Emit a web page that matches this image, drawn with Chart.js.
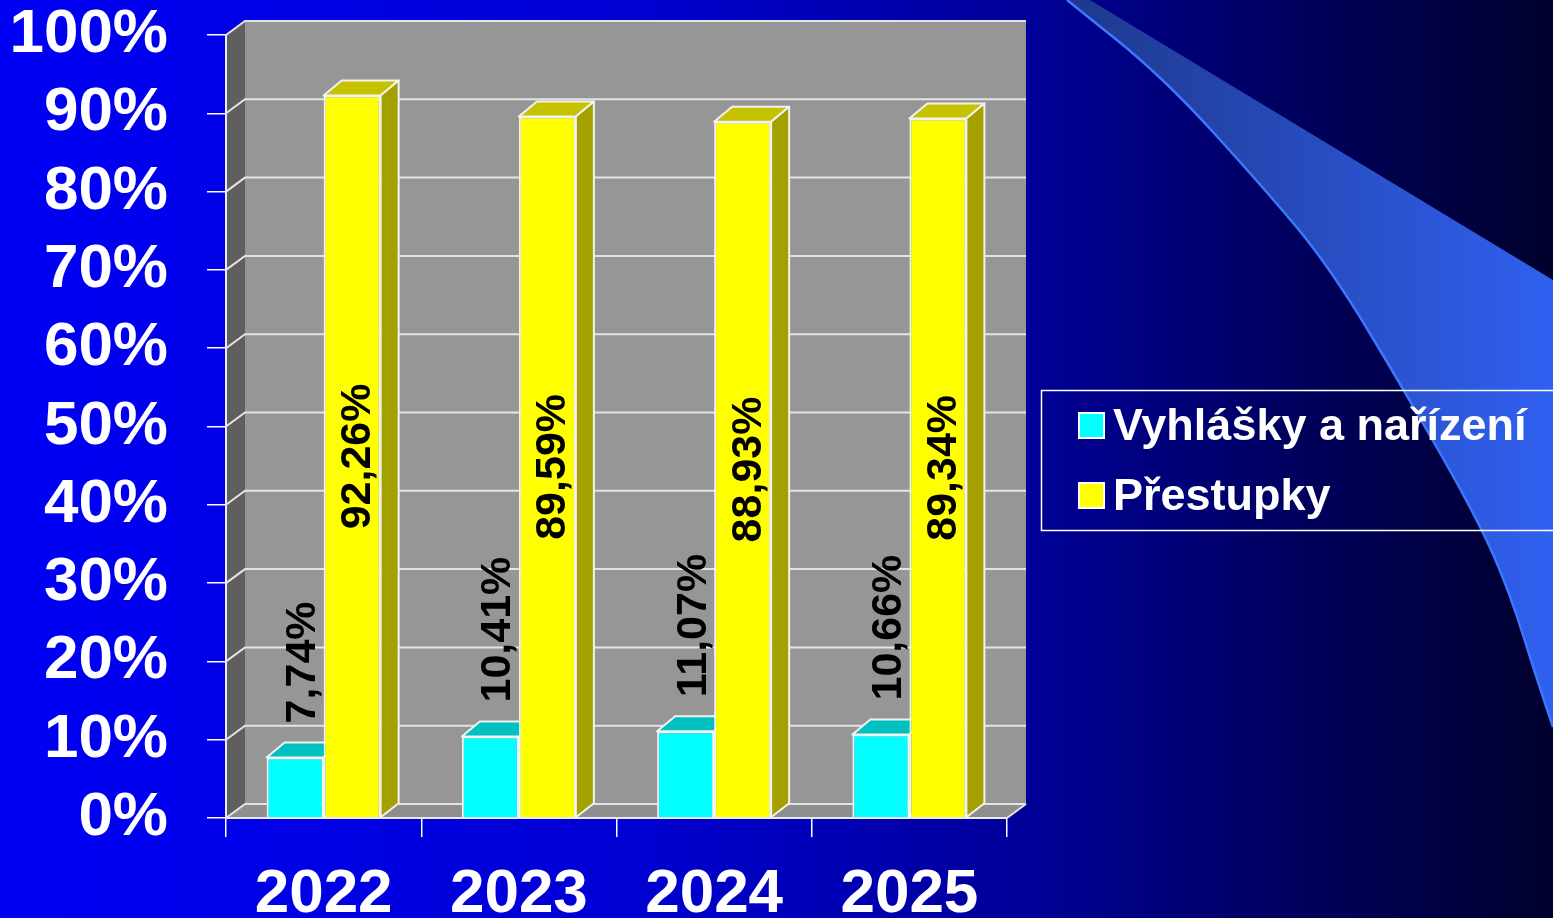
<!DOCTYPE html>
<html><head><meta charset="utf-8">
<script src="https://cdn.jsdelivr.net/npm/chart.js@4.4.0/dist/chart.umd.min.js"></script>
<style>html,body{margin:0;padding:0;background:#0000a0;overflow:hidden}canvas{display:block}</style>
</head><body>
<canvas id="c" width="1553" height="918"></canvas>
<script>
// ---- data ----
const categories = ['2022', '2023', '2024', '2025'];
const vyhlasky = [7.74, 10.41, 11.07, 10.66];
const prestupky = [92.26, 89.59, 88.93, 89.34];
const seriesNames = ['Vyhlášky a nařízení', 'Přestupky'];
const yTickStep = 10;

// ---- styling ----
const FONT = '"Liberation Sans", Arial, sans-serif';
const WDX = 19, WDY = -14;   // wall depth
const BDX = 18, BDY = -15;   // bar depth
const faceColors = [
  { front: '#00FFFF', top: '#00C0C0', side: '#009C9C' },
  { front: '#FFFF00', top: '#C6C200', side: '#A4A000' }
];

function poly(ctx, pts, fill, stroke, lw) {
  ctx.beginPath();
  ctx.moveTo(pts[0][0], pts[0][1]);
  for (let i = 1; i < pts.length; i++) ctx.lineTo(pts[i][0], pts[i][1]);
  ctx.closePath();
  if (fill) { ctx.fillStyle = fill; ctx.fill(); }
  if (stroke) { ctx.strokeStyle = stroke; ctx.lineWidth = lw || 1; ctx.stroke(); }
}

const scenePlugin = {
  id: 'scene',
  beforeDraw(chart) {
    const ctx = chart.ctx, W = chart.width, H = chart.height;
    ctx.save();
    const g = ctx.createLinearGradient(0, 0, W, 0);
    g.addColorStop(0, 'rgb(0,0,245)');
    g.addColorStop(0.41, 'rgb(0,0,210)');
    g.addColorStop(0.67, 'rgb(0,0,150)');
    g.addColorStop(0.83, 'rgb(0,0,95)');
    g.addColorStop(1, 'rgb(0,0,45)');
    ctx.fillStyle = g;
    ctx.fillRect(0, 0, W, H);

    // decorative swoosh
    const curve = [[1553,727],[1537,680],[1510,593],[1478,520],[1410,400],[1330,267],[1263,187],[1163,77],[1067,0]];
    const traceCurve = () => {
      ctx.moveTo(curve[0][0], curve[0][1]);
      for (let i = 1; i < curve.length - 1; i++) {
        const mx = (curve[i][0] + curve[i+1][0]) / 2, my = (curve[i][1] + curve[i+1][1]) / 2;
        ctx.quadraticCurveTo(curve[i][0], curve[i][1], mx, my);
      }
      ctx.lineTo(curve[curve.length-1][0], curve[curve.length-1][1]);
    };
    const sg = ctx.createLinearGradient(1067, 0, W, 0);
    sg.addColorStop(0, 'rgb(30,56,140)');
    sg.addColorStop(1, 'rgb(48,96,240)');
    ctx.beginPath();
    traceCurve();
    ctx.lineTo(1090, 0);
    ctx.lineTo(W, 280);
    ctx.closePath();
    ctx.fillStyle = sg;
    ctx.fill();
    ctx.beginPath();
    traceCurve();
    ctx.strokeStyle = 'rgb(60,120,255)';
    ctx.lineWidth = 2.5;
    ctx.stroke();

    // 3D walls
    const a = chart.chartArea, L = a.left, R = a.right, T = a.top, B = a.bottom;
    poly(ctx, [[L+WDX, T+WDY], [R+WDX, T+WDY], [R+WDX, B+WDY], [L+WDX, B+WDY]], '#969696');
    poly(ctx, [[L, T], [L+WDX, T+WDY], [L+WDX, B+WDY], [L, B]], '#5f5f5f');
    poly(ctx, [[L, B], [L+WDX, B+WDY], [R+WDX, B+WDY], [R, B]], '#8e8e8e');
    const y = chart.scales.y;
    ctx.strokeStyle = '#e4e4e4';
    ctx.lineWidth = 2;
    y.ticks.forEach(t => {
      const py = y.getPixelForValue(t.value);
      ctx.beginPath();
      ctx.moveTo(L, py);
      ctx.lineTo(L + WDX, py + WDY);
      ctx.lineTo(R + WDX, py + WDY);
      ctx.stroke();
    });
    ctx.beginPath();
    ctx.moveTo(R, B); ctx.lineTo(R + WDX, B + WDY);
    ctx.stroke();
    ctx.restore();
  },
  beforeDatasetsDraw(chart) {
    const ctx = chart.ctx;
    ctx.save();
    ctx.lineJoin = 'round';
    chart.data.datasets.forEach((ds, di) => {
      const meta = chart.getDatasetMeta(di);
      const c = faceColors[di];
      meta.data.forEach(bar => {
        const x0 = bar.x - bar.width / 2, x1 = bar.x + bar.width / 2, yt = bar.y, yb = bar.base;
        poly(ctx, [[x0, yt], [x1, yt], [x1+BDX, yt+BDY], [x0+BDX, yt+BDY]], c.top, '#f2f2f2', 2);
        poly(ctx, [[x1, yt], [x1+BDX, yt+BDY], [x1+BDX, yb+WDY], [x1, yb]], c.side, '#f2f2f2', 2);
      });
    });
    ctx.restore();
  },
  afterDatasetsDraw(chart) {
    const ctx = chart.ctx;
    ctx.save();
    ctx.font = 'bold 43px ' + FONT;
    ctx.fillStyle = '#000';
    chart.data.datasets.forEach((ds, di) => {
      const meta = chart.getDatasetMeta(di);
      meta.data.forEach((bar, i) => {
        const txt = ds.data[i].toFixed(2).replace('.', ',') + '%';
        ctx.save();
        if (di === 1) {
          ctx.translate(bar.x + 18, (bar.y + bar.base) / 2);
          ctx.rotate(-Math.PI / 2);
          ctx.textAlign = 'center';
        } else {
          ctx.translate(bar.x + 20, bar.y - 34);
          ctx.rotate(-Math.PI / 2);
          ctx.textAlign = 'left';
        }
        ctx.textBaseline = 'alphabetic';
        ctx.fillText(txt, 0, 0);
        ctx.restore();
      });
    });
    ctx.restore();
  },
  afterDraw(chart) {
    const ctx = chart.ctx;
    ctx.save();
    ctx.strokeStyle = '#ffffff';
    ctx.lineWidth = 1.5;
    ctx.strokeRect(1041.5, 390.5, 620, 140);
    ctx.font = 'bold 45px ' + FONT;
    ctx.textBaseline = 'alphabetic';
    ctx.textAlign = 'left';
    chart.data.datasets.forEach((ds, i) => {
      const yy = 413 + i * 70;
      ctx.fillStyle = ds.backgroundColor;
      ctx.fillRect(1079, yy, 25, 25);
      ctx.strokeStyle = '#ffffff';
      ctx.lineWidth = 2;
      ctx.strokeRect(1079, yy, 25, 25);
      ctx.fillStyle = '#ffffff';
      ctx.fillText(ds.label, 1113, yy + 27);
    });
    ctx.restore();
  }
};

new Chart(document.getElementById('c'), {
  type: 'bar',
  data: {
    labels: categories,
    datasets: [
      { label: seriesNames[0], data: vyhlasky, backgroundColor: faceColors[0].front, borderColor: '#f2f2f2', borderWidth: 2 },
      { label: seriesNames[1], data: prestupky, backgroundColor: faceColors[1].front, borderColor: '#f2f2f2', borderWidth: 2 }
    ]
  },
  options: {
    responsive: false,
    animation: false,
    events: [],
    layout: { autoPadding: false, padding: { left: 0, top: 35, right: 546, bottom: 0 } },
    datasets: { bar: { categoryPercentage: 0.584, barPercentage: 1 } },
    plugins: { legend: { display: false }, tooltip: { enabled: false }, title: { display: false } },
    scales: {
      x: {
        afterFit: s => { s.height = 100; s.paddingLeft = 0; s.paddingRight = 0; },
        grid: { offset: true, drawOnChartArea: false, drawTicks: true, tickLength: 19, color: '#ffffff', lineWidth: 1.5 },
        border: { display: true, color: '#ececec', width: 2 },
        ticks: { color: '#ffffff', padding: 27, font: { family: FONT, size: 62, weight: 'bold', lineHeight: 1 } }
      },
      y: {
        min: 0, max: 100,
        afterFit: s => { s.width = 226; s.paddingTop = 0; s.paddingBottom = 0; },
        grid: { drawOnChartArea: false, drawTicks: true, tickLength: 19, color: '#ffffff', lineWidth: 1.5 },
        border: { display: true, color: '#ececec', width: 2 },
        ticks: { stepSize: yTickStep, color: '#ffffff', padding: 39, callback: v => v + '%',
                 font: { family: FONT, size: 62, weight: 'bold', lineHeight: 1 } }
      }
    }
  },
  plugins: [scenePlugin]
});
</script>
</body></html>
